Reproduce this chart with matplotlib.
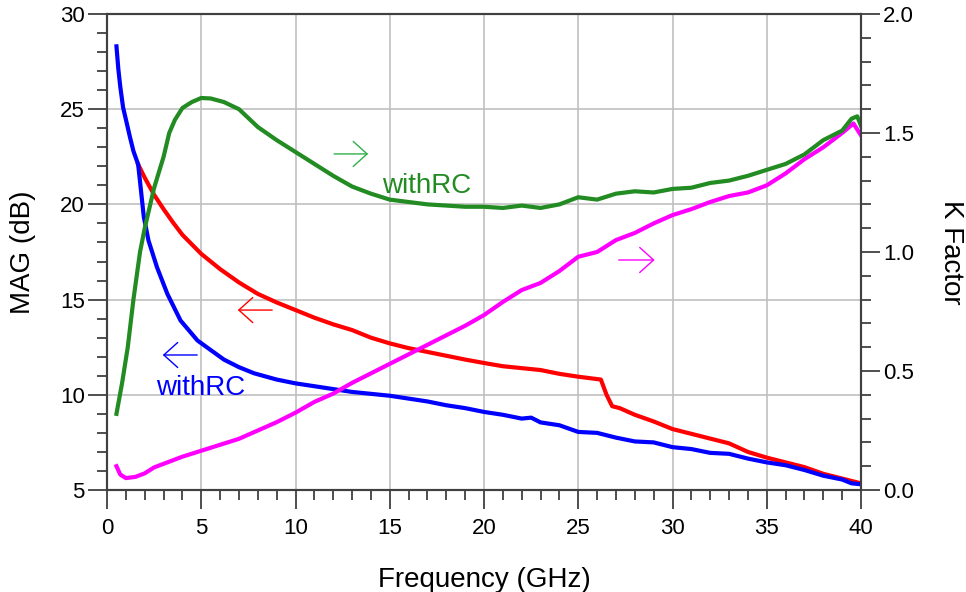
import numpy as np
import matplotlib
matplotlib.use("Agg")
import matplotlib.pyplot as plt
from matplotlib.ticker import MultipleLocator

plt.rcParams['font.family'] = ['Liberation Sans', 'DejaVu Sans']

# MAG with RC (blue, left axis)
f_mag_rc = [0.5, 0.6, 0.7, 0.85, 1.05, 1.2, 1.4, 1.65, 1.75, 1.95, 2.2, 2.65, 3.2, 3.9, 4.8, 5.5,
            6.2, 7, 7.8, 9, 10, 11, 12, 13, 14, 15, 16, 17, 18, 19, 20, 21, 22, 22.5, 23, 24,
            25, 26, 27, 28, 29, 30, 31, 32, 33, 34, 35, 36, 37, 38, 39, 39.5, 40]
mag_rc = [28.3, 27.1, 26.2, 25.1, 24.25, 23.6, 22.8, 22.1, 21.2, 19.35, 18.1, 16.7, 15.3, 13.9,
          12.85, 12.35, 11.85, 11.45, 11.13, 10.8, 10.6, 10.45, 10.3, 10.15, 10.05, 9.95, 9.8,
          9.65, 9.45, 9.3, 9.1, 8.95, 8.75, 8.8, 8.55, 8.4, 8.05, 8.0, 7.75, 7.55, 7.5, 7.25,
          7.15, 6.95, 6.9, 6.65, 6.45, 6.3, 6.05, 5.75, 5.55, 5.35, 5.3]

# MAG without RC (red, left axis)
f_mag = [1.65, 2, 2.5, 3, 3.5, 4, 5, 6, 7, 8, 9, 10, 11, 12, 13, 14, 15, 16, 17, 18, 19, 20,
         21, 22, 23, 24, 25, 26.2, 26.5, 26.8, 27.2, 28, 29, 30, 31, 32, 33, 34, 35, 36, 37,
         38, 39, 40]
mag = [22.1, 21.4, 20.5, 19.75, 19.05, 18.4, 17.4, 16.6, 15.9, 15.3, 14.85, 14.45, 14.05, 13.7,
       13.4, 13.0, 12.7, 12.45, 12.25, 12.05, 11.85, 11.67, 11.5, 11.4, 11.3, 11.1, 10.95, 10.8,
       10.0, 9.4, 9.3, 8.95, 8.6, 8.2, 7.95, 7.7, 7.45, 7.0, 6.7, 6.45, 6.2, 5.85, 5.6, 5.35]

# K factor with RC (green, right axis)
f_k_rc = [0.5, 0.8, 1.1, 1.4, 1.75, 2.0, 2.5, 3.0, 3.3, 3.6, 4.0, 4.5, 5.0, 5.5, 6.2, 7, 8, 9,
          10, 11, 12, 13, 14, 15, 16, 17, 18, 19, 20, 21, 22, 23, 24, 25, 26, 27, 28, 29, 30,
          31, 32, 33, 34, 35, 36, 37, 38, 38.5, 39, 39.5, 39.8, 40]
k_rc = [0.32, 0.45, 0.6, 0.8, 1.0, 1.1, 1.27, 1.40, 1.50, 1.555, 1.605, 1.63, 1.647, 1.645,
        1.63, 1.6, 1.525, 1.47, 1.42, 1.37, 1.32, 1.275, 1.245, 1.22, 1.21, 1.2, 1.195, 1.19,
        1.19, 1.185, 1.195, 1.185, 1.2, 1.23, 1.22, 1.245, 1.255, 1.25, 1.265, 1.27, 1.29, 1.3,
        1.32, 1.345, 1.37, 1.41, 1.47, 1.49, 1.51, 1.56, 1.57, 1.53]

# K factor without RC (magenta, right axis)
f_k = [0.5, 0.7, 1.0, 1.5, 2, 2.5, 3, 3.5, 4, 5, 6, 7, 8, 9, 10, 11, 12, 13, 14, 15, 16, 17,
       18, 19, 20, 21, 22, 23, 24, 25, 26, 27, 28, 29, 30, 31, 32, 33, 34, 35, 36, 37, 38, 39,
       39.6, 40]
k = [0.10, 0.065, 0.05, 0.055, 0.07, 0.095, 0.11, 0.125, 0.14, 0.165, 0.19, 0.215, 0.25,
     0.285, 0.325, 0.37, 0.405, 0.45, 0.49, 0.53, 0.57, 0.61, 0.65, 0.69, 0.735, 0.79, 0.84,
     0.87, 0.92, 0.98, 1.0, 1.05, 1.08, 1.12, 1.155, 1.18, 1.21, 1.235, 1.25, 1.28, 1.33,
     1.39, 1.44, 1.5, 1.54, 1.49]

spine_col = '#404040'
green = '#228B22'

fig = plt.figure(figsize=(9.66, 5.92), dpi=100)
ax = fig.add_axes([0.1108, 0.1723, 0.7805, 0.8041])
ax2 = ax.twinx()

ax.plot(f_mag, mag, color='red', lw=3, zorder=3)
ax.plot(f_mag_rc, mag_rc, color='blue', lw=3, zorder=4)
ax2.plot(f_k, k, color='magenta', lw=3)
ax2.plot(f_k_rc, k_rc, color=green, lw=3)

ax.set_xlim(0, 40)
ax.set_ylim(5, 30)
ax2.set_ylim(0, 2.0)

ax.xaxis.set_major_locator(MultipleLocator(5))
ax.xaxis.set_minor_locator(MultipleLocator(1))
ax.yaxis.set_major_locator(MultipleLocator(5))
ax.yaxis.set_minor_locator(MultipleLocator(1))
ax2.yaxis.set_major_locator(MultipleLocator(0.5))
ax2.yaxis.set_minor_locator(MultipleLocator(0.1))
ax2.yaxis.set_major_formatter(plt.FormatStrFormatter('%.1f'))

ax.grid(True, which='major', color='#c0c0c0', lw=1.2)
ax.set_axisbelow(True)

for a in (ax, ax2):
    for s in a.spines.values():
        s.set_color(spine_col)
        s.set_linewidth(1.5)
    a.tick_params(which='major', length=14, width=1.3, color=spine_col, labelsize=16, pad=2)
    a.tick_params(which='minor', length=7, width=1.3, color=spine_col)
ax.tick_params(axis='x', which='major', pad=6)

ax.set_xlabel('Frequency (GHz)', fontsize=20, labelpad=20)
ax.set_ylabel('MAG (dB)', fontsize=20, labelpad=17)
ax2.set_ylabel('K Factor', fontsize=20, rotation=270, labelpad=36)

# direction arrows and labels
hs = '->,head_length=0.5,head_width=0.45'
arr = dict(lw=1, mutation_scale=20)
ax.annotate('', xy=(14.0, 22.65), xytext=(11.9, 22.65),
            arrowprops=dict(arrowstyle=hs, color='#2eb04a', **arr))
ax.annotate('', xy=(2.81, 12.09), xytext=(4.93, 12.09),
            arrowprops=dict(arrowstyle=hs, color='blue', **arr))
ax.annotate('', xy=(6.79, 14.45), xytext=(8.91, 14.45),
            arrowprops=dict(arrowstyle=hs, color='red', **arr))
ax.annotate('', xy=(29.2, 17.08), xytext=(27.0, 17.08),
            arrowprops=dict(arrowstyle=hs, color='magenta', **arr))
ax.text(14.6, 20.6, 'withRC', color=green, fontsize=20, va='baseline')
ax.text(2.6, 10.0, 'withRC', color='blue', fontsize=20, va='baseline')

fig.savefig('out.png', dpi=100)
